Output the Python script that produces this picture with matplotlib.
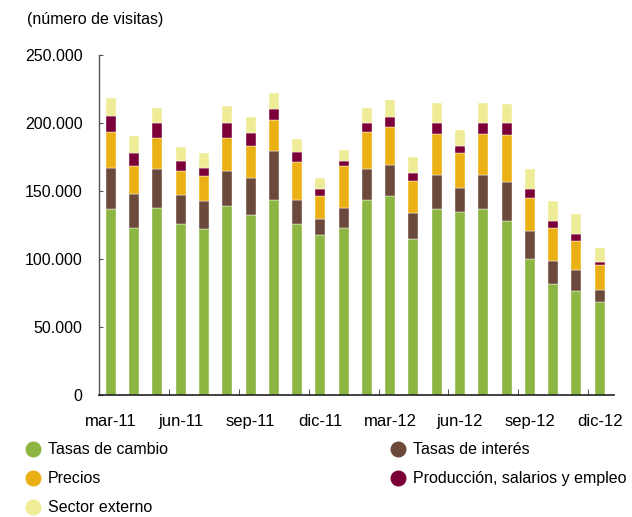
import matplotlib
matplotlib.use("Agg")
import matplotlib.pyplot as plt
import numpy as np
from matplotlib.lines import Line2D

plt.rcParams["font.family"] = ["Liberation Sans", "DejaVu Sans"]

months = [
    "mar-11", "abr-11", "may-11", "jun-11", "jul-11", "ago-11", "sep-11",
    "oct-11", "nov-11", "dic-11", "ene-12", "feb-12", "mar-12", "abr-12",
    "may-12", "jun-12", "jul-12", "ago-12", "sep-12", "oct-12", "nov-12",
    "dic-12",
]
tasas_cambio = [137000, 123000, 137600, 125900, 121800, 138600, 132300,
                143000, 125900, 117600, 123000, 143000, 146200, 114400,
                136700, 134700, 136700, 128100, 99600, 81800, 76400, 68100]
tasas_interes = [30000, 24900, 28300, 21000, 20900, 26300, 27300,
                 36600, 17100, 11500, 14600, 23200, 23100, 19000,
                 25100, 17600, 25100, 28300, 20900, 16500, 15800, 9000]
precios = [26500, 20200, 23200, 18000, 18100, 24200, 23400,
           22400, 28500, 17100, 30800, 27300, 27400, 23500,
           29800, 25300, 29800, 34900, 24400, 24400, 21000, 18300]
produccion = [11700, 9500, 10700, 7400, 6100, 10700, 9500,
              8300, 7300, 5100, 3900, 6600, 7500, 6100,
              8200, 5400, 8200, 8500, 6400, 5400, 5400, 2200]
sector_externo = [12700, 12700, 10800, 9700, 11000, 12700, 11700,
                  11700, 9500, 8500, 7800, 10700, 12700, 11700,
                  14700, 11700, 14700, 13700, 14900, 14600, 14600, 10700]

series = [
    ("Tasas de cambio", tasas_cambio, "#8db541"),
    ("Tasas de interés", tasas_interes, "#6b4a3b"),
    ("Precios", precios, "#ebb014"),
    ("Producción, salarios y empleo", produccion, "#7b0039"),
    ("Sector externo", sector_externo, "#eeec96"),
]

yticks = [0, 50000, 100000, 150000, 200000, 250000]
ytick_labels = ["0", "50.000", "100.000", "150.000", "200.000", "250.000"]
label_months = ["mar-11", "jun-11", "sep-11", "dic-11",
                "mar-12", "jun-12", "sep-12", "dic-12"]

fig = plt.figure(figsize=(6.32, 5.17), dpi=100)
ax = fig.add_axes([0.157, 0.236, 0.814, 0.658])

x = np.arange(len(months))
bottom = np.zeros(len(months))
for name, vals, color in series:
    ax.bar(x, vals, width=0.43, bottom=bottom, color=color,
           edgecolor="white", linewidth=0.3, label=name)
    bottom += np.array(vals)

ax.set_xlim(-0.5, 21.6)
ax.set_ylim(0, 250000)

for s in ["top", "right"]:
    ax.spines[s].set_visible(False)
ax.spines["left"].set_color("#555555")
ax.spines["bottom"].set_color("#222222")
ax.spines["left"].set_linewidth(1.0)
ax.spines["bottom"].set_linewidth(1.2)

ax.set_yticks(yticks)
ax.set_yticklabels(ytick_labels, fontsize=11.5)
ax.tick_params(axis="y", direction="in", length=3, pad=12, color="#555555")

label_pos = [months.index(m) for m in label_months]
ax.set_xticks(label_pos)
ax.set_xticklabels(label_months, fontsize=12)
ax.tick_params(axis="x", which="major", length=0, pad=14)
ax.set_xticks(np.arange(2.5, len(months), 3), minor=True)
ax.tick_params(axis="x", which="minor", direction="in", length=4,
               color="#333333")

fig.text(0.043, 0.963, "(número de visitas)", fontsize=11.5, ha="left",
         va="center")

handles = []
order = [0, 2, 4, 1, 3]
for i in order:
    name, vals, color = series[i]
    handles.append(Line2D([], [], linestyle="none", marker="o",
                          markersize=10.5, markerfacecolor=color,
                          markeredgecolor=color, label=name))
fig.legend(handles=handles, ncol=2, loc="upper left",
           bbox_to_anchor=(0.014, 0.172), frameon=False, fontsize=11.5,
           handletextpad=0.3, columnspacing=13.8, labelspacing=0.87,
           handlelength=1.25)

fig.savefig("out.png", dpi=100)
